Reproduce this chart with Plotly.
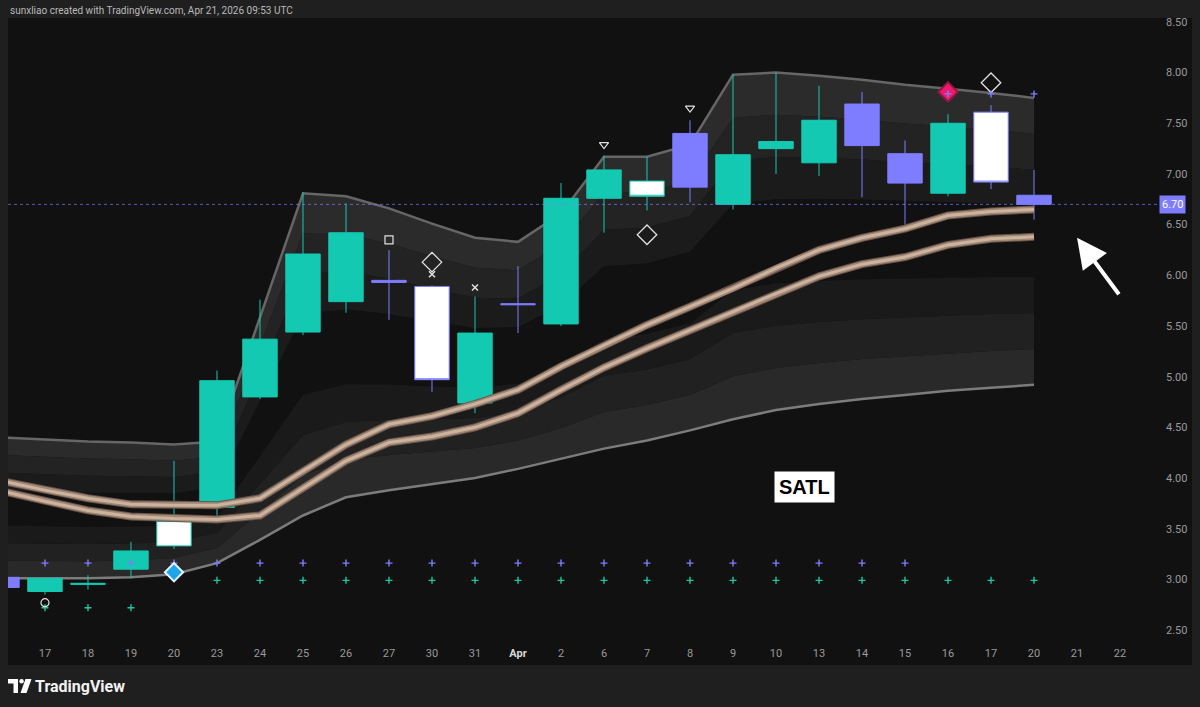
import plotly.graph_objects as go

# ---------------- data ----------------
# bar index: -1 = Mar 16 (partly visible), 0 = Mar 17 ... 23 = Apr 20
bar_index = list(range(-1, 24))
bar_dates = ["Mar 16", "Mar 17", "Mar 18", "Mar 19", "Mar 20", "Mar 23", "Mar 24", "Mar 25",
             "Mar 26", "Mar 27", "Mar 30", "Mar 31", "Apr 1", "Apr 2", "Apr 6", "Apr 7",
             "Apr 8", "Apr 9", "Apr 10", "Apr 13", "Apr 14", "Apr 15", "Apr 16", "Apr 17", "Apr 20"]

open_ = [3.02, 2.88, 2.95, 3.10, 3.33, 3.71, 4.80, 5.44, 5.74, 5.95, 5.89, 4.74, 5.72,
         5.52, 6.76, 6.93, 6.87, 6.70, 7.25, 7.11, 7.69, 7.20, 6.81, 7.61, 6.79]
high = [3.03, 3.01, 3.04, 3.37, 4.17, 5.06, 5.76, 6.82, 6.71, 6.25, 5.90, 5.79, 6.09,
        6.91, 7.18, 7.17, 7.53, 7.98, 8.00, 7.87, 7.81, 7.33, 7.59, 7.68, 7.04]
low = [2.91, 2.85, 2.90, 3.01, 3.30, 3.62, 4.78, 5.41, 5.63, 5.56, 4.85, 4.64, 5.43,
       5.50, 6.42, 6.64, 6.72, 6.65, 7.00, 6.98, 6.77, 6.50, 6.78, 6.85, 6.55]
close = [2.92, 3.01, 2.96, 3.28, 3.58, 4.96, 5.37, 6.21, 6.42, 5.93, 4.97, 5.43, 5.71,
         6.76, 7.04, 6.78, 7.40, 7.19, 7.32, 7.53, 7.28, 6.91, 7.50, 6.92, 6.70]
candle_group = ["purple", "teal", "teal", "teal", "white_teal", "teal", "teal", "teal",
                "teal", "purple", "white_purple", "teal", "purple", "teal", "teal",
                "white_teal", "purple", "teal", "teal", "teal", "purple", "purple",
                "teal", "white_purple", "purple"]

# channel (outer envelope) and the two SATL lines
upper_band = [4.40, 4.38, 4.36, 4.35, 4.33, 4.36, 5.58, 6.81, 6.78, 6.66, 6.51, 6.37, 6.33,
              6.61, 7.17, 7.17, 7.29, 7.98, 8.00, 7.97, 7.93, 7.88, 7.84, 7.80, 7.75]
lower_band = [3.01, 3.01, 3.01, 3.02, 3.05, 3.16, 3.39, 3.63, 3.81, 3.88, 3.94, 4.00, 4.09,
              4.19, 4.29, 4.37, 4.47, 4.58, 4.67, 4.73, 4.78, 4.82, 4.86, 4.89, 4.92]
satl_fast = [3.97, 3.88, 3.80, 3.74, 3.73, 3.73, 3.80, 4.07, 4.33, 4.53, 4.61, 4.73, 4.87,
             5.10, 5.31, 5.51, 5.69, 5.87, 6.07, 6.25, 6.37, 6.46, 6.59, 6.63, 6.65]
satl_slow = [3.87, 3.77, 3.68, 3.62, 3.60, 3.59, 3.63, 3.90, 4.17, 4.35, 4.41, 4.50, 4.64,
             4.87, 5.09, 5.28, 5.46, 5.64, 5.82, 5.99, 6.11, 6.18, 6.30, 6.36, 6.38]

# signal markers
purple_plus_x = list(range(0, 21)); purple_plus_y = [3.16] * 21
purple_top_x = [21, 22, 23]; purple_top_y = [7.79, 7.79, 7.79]
green_plus_x = list(range(4, 24)); green_plus_y = [2.99] * 20
green_low_x = [0, 1, 2]; green_low_y = [2.72, 2.72, 2.72]
circle_x = [0]; circle_y = [2.77]
blue_diamond_x = [3]; blue_diamond_y = [3.07]
square_x = [8]; square_y = [6.35]
open_diamond_x = [9, 14, 22]; open_diamond_y = [6.13, 6.40, 7.90]
cross_x = [9, 10]; cross_y = [6.01, 5.88]
tri_x = [13, 15]; tri_y = [7.29, 7.65]
pink_diamond_x = [21]; pink_diamond_y = [7.81]

tick_pos = list(range(0, 26))
tick_text = ["17", "18", "19", "20", "23", "24", "25", "26", "27", "30", "31", "Apr", "2",
             "6", "7", "8", "9", "10", "13", "14", "15", "16", "17", "20", "21", "22"]
price_ticks = [2.5, 3.0, 3.5, 4.0, 4.5, 5.0, 5.5, 6.0, 6.5, 7.0, 7.5, 8.0, 8.5]

# ---------------- styling ----------------
TEAL = "#14c9b2"
PURPLE = "#7f7dff"
WHITE = "#ffffff"
PAPER = "#1f1f1f"
PANEL = "#111111"
FONT = "Roboto"
X_RANGE = [-0.86, 25.86]
Y_RANGE = [2.352, 8.539]

W, H = 1200, 707
ML, MR, MT, MB = 8, 43, 18, 62
PW, PH = W - ML - MR, H - MT - MB


def px(xp):
    return (xp - ML) / PW


def py(yp):
    return (H - MB - yp) / PH


fig = go.Figure()

# ---- channel fills (main axes) ----
width_step = [(u - l) / 8 for u, l in zip(upper_band, lower_band)]
upper_cols = ["#2b2b2b", "#232323", "#1b1b1b"]
lower_cols = ["#292929", "#212121", "#1a1a1a"]
fig.add_trace(go.Scatter(x=bar_index, y=upper_band, mode="lines", line=dict(width=0),
                         hoverinfo="skip", showlegend=False))
for k in range(1, 4):
    fig.add_trace(go.Scatter(x=bar_index, y=[u - k * s for u, s in zip(upper_band, width_step)],
                             mode="lines", line=dict(width=0), fill="tonexty",
                             fillcolor=upper_cols[k - 1], hoverinfo="skip", showlegend=False))
fig.add_trace(go.Scatter(x=bar_index, y=lower_band, mode="lines", line=dict(width=0),
                         hoverinfo="skip", showlegend=False))
for k in range(1, 4):
    fig.add_trace(go.Scatter(x=bar_index, y=[l + k * s for l, s in zip(lower_band, width_step)],
                             mode="lines", line=dict(width=0), fill="tonexty",
                             fillcolor=lower_cols[k - 1], hoverinfo="skip", showlegend=False))
fig.add_trace(go.Scatter(x=bar_index, y=upper_band, mode="lines",
                         line=dict(color="#666666", width=2.5), hoverinfo="skip", showlegend=False))
fig.add_trace(go.Scatter(x=bar_index, y=lower_band, mode="lines",
                         line=dict(color="#7c7c7c", width=2.5), hoverinfo="skip", showlegend=False))

# ---- candles (overlay axes) ----
groups = {"teal": (TEAL, TEAL), "purple": (PURPLE, PURPLE),
          "white_teal": (WHITE, TEAL), "white_purple": (WHITE, PURPLE)}
for g, (fc, lc) in groups.items():
    sel = [k for k, c in enumerate(candle_group) if c == g]
    style = dict(fillcolor=fc, line=dict(color=lc, width=1))
    fig.add_trace(go.Candlestick(
        x=[bar_index[k] for k in sel], open=[open_[k] for k in sel],
        high=[high[k] for k in sel], low=[low[k] for k in sel], close=[close[k] for k in sel],
        increasing=style, decreasing=style, whiskerwidth=0,
        xaxis="x2", yaxis="y2", hoverinfo="skip", showlegend=False))

# ---- SATL lines (over candles) ----
for series in (satl_slow, satl_fast):
    for wdt, col in ((8, "#6a5648"), (6, "#a4897a"), (3, "#cfb6a1")):
        fig.add_trace(go.Scatter(x=bar_index, y=series, mode="lines",
                                 line=dict(color=col, width=wdt), opacity=0.95,
                                 xaxis="x2", yaxis="y2", hoverinfo="skip", showlegend=False))


# ---- markers ----
def mk(x, y, symbol, size, color, lcolor=None, lwidth=1.2):
    m = dict(symbol=symbol, size=size, color=color,
             line=dict(color=lcolor if lcolor else color, width=lwidth))
    fig.add_trace(go.Scatter(x=x, y=y, mode="markers", marker=m, xaxis="x2", yaxis="y2",
                             hoverinfo="skip", showlegend=False))


GREEN = "#1fc79a"
LIGHT = "#e2e2e2"
mk(purple_plus_x, purple_plus_y, "cross-thin", 5, PURPLE, lwidth=1.4)
mk(green_plus_x, green_plus_y, "cross-thin", 5, GREEN, lwidth=1.4)
mk(green_low_x, green_low_y, "cross-thin", 5, GREEN, lwidth=1.4)
mk(circle_x, circle_y, "circle-open", 8, LIGHT, lwidth=1.2)
mk(blue_diamond_x, blue_diamond_y, "diamond", 14, "#1ea6ea", lcolor="#e6f6ff", lwidth=2)
mk(square_x, square_y, "square-open", 8, LIGHT, lwidth=1.2)
mk(open_diamond_x, open_diamond_y, "diamond-open", 15, LIGHT, lwidth=1.3)
mk(cross_x, cross_y, "x-thin", 6, LIGHT, lwidth=1.5)
mk(tri_x, tri_y, "triangle-down-open", 8, LIGHT, lwidth=1.2)
mk(pink_diamond_x, pink_diamond_y, "diamond", 15, "#f0186a", lcolor="#8c1a3e", lwidth=2)
mk(purple_top_x, purple_top_y, "cross-thin", 5, PURPLE, lwidth=1.4)

last_price = close[-1]

shapes = [
    # chart panel
    dict(type="rect", xref="paper", yref="paper", x0=px(8), x1=px(1192), y0=py(665), y1=py(18),
         fillcolor=PANEL, line=dict(width=0), layer="below"),
    # last price line
    dict(type="line", xref="paper", yref="y", x0=0, x1=1, y0=last_price, y1=last_price,
         line=dict(color="rgba(127,125,255,0.7)", width=1, dash="dot"), layer="above"),
    # TradingView logo
    dict(type="rect", xref="paper", yref="paper", x0=px(8), x1=px(18), y0=py(683.5), y1=py(679),
         fillcolor="#ffffff", line=dict(width=0)),
    dict(type="rect", xref="paper", yref="paper", x0=px(13.5), x1=px(18), y0=py(693), y1=py(679),
         fillcolor="#ffffff", line=dict(width=0)),
    dict(type="circle", xref="paper", yref="paper", x0=px(19.3), x1=px(23.8), y0=py(683.6), y1=py(679.1),
         fillcolor="#ffffff", line=dict(width=0)),
    dict(type="path", xref="paper", yref="paper",
         path=f"M {px(25.5)},{py(679)} L {px(31.5)},{py(679)} L {px(26.5)},{py(693)} L {px(20.5)},{py(693)} Z",
         fillcolor="#ffffff", line=dict(width=0)),
]

annotations = [
    dict(xref="paper", yref="paper", x=0, y=py(11), xanchor="left", yanchor="middle",
         text="sunxliao created with TradingView.com, Apr 21, 2026 09:53 UTC", showarrow=False,
         font=dict(family=FONT, size=10, color="#b9b9b9")),
    dict(xref="paper", yref="paper", x=px(33), y=py(686), xanchor="left", yanchor="middle",
         text="<b>TradingView</b>", showarrow=False,
         font=dict(family=FONT, size=16, color="#f2f2f2")),
    dict(xref="paper", yref="y", x=1, y=last_price, xanchor="left", yanchor="middle", xshift=2,
         text="6.70", showarrow=False, bgcolor=PURPLE, borderpad=2,
         font=dict(family=FONT, size=11, color="#ffffff")),
    dict(xref="x", yref="y", x=17.67, y=3.91, text="<b>SATL</b>", showarrow=False,
         bgcolor="#ffffff", borderpad=4, font=dict(family="Liberation Sans", size=20, color="#000000")),
    dict(xref="x", yref="y", x=24.0, y=6.37, ax=43, ay=58, text="", showarrow=True,
         arrowhead=2, arrowsize=1.5, arrowwidth=4, arrowcolor="#ffffff"),
]

tick_text_fmt = [f"<b><span style='color:#d9d9d9'>{t}</span></b>" if t == "Apr" else t for t in tick_text]

fig.update_layout(
    width=W, height=H,
    margin=dict(l=ML, r=MR, t=MT, b=MB),
    paper_bgcolor=PAPER, plot_bgcolor=PANEL,
    hovermode=False, showlegend=False,
    font=dict(family=FONT, color="#9a9a9a", size=11),
    boxgap=0.2, boxgroupgap=0,
    xaxis=dict(range=X_RANGE, tickvals=tick_pos, ticktext=tick_text_fmt, showgrid=False,
               zeroline=False, showline=False, ticks="", fixedrange=True,
               tickfont=dict(family=FONT, size=11, color="#9a9a9a"), rangeslider=dict(visible=False)),
    xaxis2=dict(range=X_RANGE, overlaying="x", visible=False, rangeslider=dict(visible=False),
                fixedrange=True),
    yaxis=dict(range=Y_RANGE, side="right", tickvals=price_ticks,
               ticktext=[f"{v:.2f}" for v in price_ticks], showgrid=False, zeroline=False,
               showline=False, ticks="", ticklabelstandoff=8, fixedrange=True,
               tickfont=dict(family=FONT, size=11, color="#9a9a9a")),
    yaxis2=dict(range=Y_RANGE, overlaying="y", visible=False, fixedrange=True),
    shapes=shapes,
    annotations=annotations,
)

fig.write_html("out.html")
